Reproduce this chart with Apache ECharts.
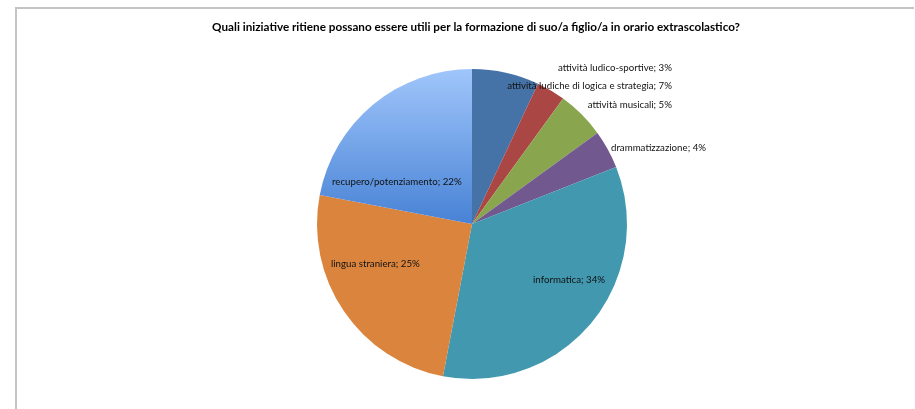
<!DOCTYPE html>
<html>
<head>
<meta charset="utf-8">
<script src="https://cdn.jsdelivr.net/npm/echarts@6/dist/echarts.min.js"></script>
<style>
html,body{margin:0;padding:0;background:#fff;}
#frame{position:absolute;left:15px;top:7px;width:899px;height:402px;border-left:2px solid #c4c4c4;border-top:2px solid #c4c4c4;box-sizing:border-box;}
#chart{position:absolute;left:0;top:0;width:915px;height:409px;}
</style>
</head>
<body>
<div id="frame"></div>
<div id="chart"></div>
<script>
const title = "Quali iniziative ritiene possano essere utili per la formazione di suo/a figlio/a in orario extrascolastico?";
const categories = [
  "attività ludiche di logica e strategia",
  "attività ludico-sportive",
  "attività musicali",
  "drammatizzazione",
  "informatica",
  "lingua straniera",
  "recupero/potenziamento"
];
const values = [7, 3, 5, 4, 34, 25, 22];

const colors = [
  "#4572a7", "#aa4643", "#89a54e", "#71588f", "#4198af", "#db843d",
  new echarts.graphic.LinearGradient(0, 0, 0, 1, [
    {offset: 0, color: "#a0c6fb"},
    {offset: 1, color: "#4882d5"}
  ])
];
// label anchor positions (x, y, align)
const labelPos = [
  [672, 86, "right"],
  [672, 68, "right"],
  [672, 105, "right"],
  [611, 148, "left"],
  [533, 280, "left"],
  [331, 264, "left"],
  [332, 182, "left"]
];

const chart = echarts.init(document.getElementById("chart"), null, {renderer: "canvas"});
chart.setOption({
  animation: false,
  backgroundColor: "transparent",
  title: {
    text: title,
    left: 471, top: 16, textAlign: "center",
    textStyle: {fontFamily: "Lato", fontWeight: "bold", fontSize: 11.7, color: "#000"}
  },
  series: [{
    type: "pie",
    center: [472, 224],
    radius: 155,
    startAngle: 90,
    clockwise: true,
    label: {
      show: true,
      position: "inside",
      formatter: p => p.name + "; " + p.value + "%",
      fontFamily: "Lato",
      fontSize: 9.7,
      color: "#111"
    },
    labelLine: {show: false},
    labelLayout: function (p) {
      const lp = labelPos[p.dataIndex];
      return {x: lp[0], y: lp[1], align: lp[2], verticalAlign: "middle"};
    },
    itemStyle: {borderWidth: 0},
    emphasis: {disabled: true},
    data: categories.map((c, i) => ({name: c, value: values[i], itemStyle: {color: colors[i]}}))
  }]
});
</script>
</body>
</html>
